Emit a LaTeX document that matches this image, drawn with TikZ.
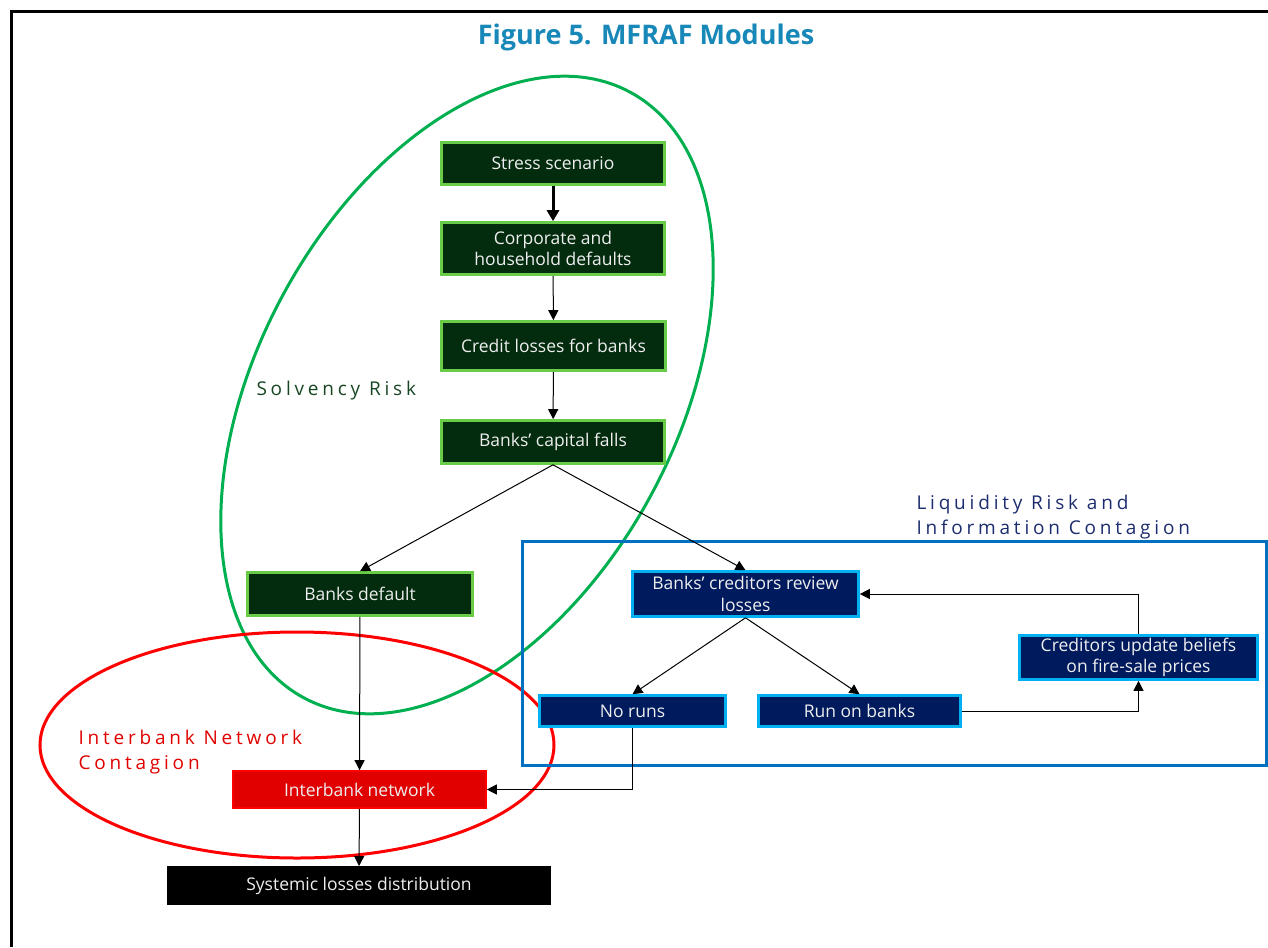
\documentclass[tikz,border=0pt]{standalone}
\usepackage{fontspec}
\setmainfont{Open Sans}
\usetikzlibrary{arrows.meta}
\definecolor{titleblue}{RGB}{24,136,184}
\definecolor{boxgreen}{RGB}{3,43,14}
\definecolor{edgegreen}{RGB}{104,204,72}
\definecolor{boxnavy}{RGB}{0,26,94}
\definecolor{edgeblue}{RGB}{0,176,240}
\definecolor{ovalgreen}{RGB}{0,176,80}
\definecolor{framblue}{RGB}{0,112,192}
\definecolor{solvtext}{RGB}{24,70,36}
\definecolor{liqtext}{RGB}{28,44,110}
\definecolor{ibred}{RGB}{224,0,0}
\definecolor{boxtext}{RGB}{238,238,238}
\tikzset{
  x=1pt, y=-1pt,
  base/.style={rectangle, line width=2.6pt, text=boxtext, font=\fontsize{17.5}{21.5}\selectfont,
    align=center, inner sep=0pt},
  greenbox/.style={base, draw=edgegreen, fill=boxgreen},
  navybox/.style={base, draw=edgeblue, fill=boxnavy},
  redbox/.style={base, draw=red, fill=ibred, line width=1.6pt},
  blackbox/.style={base, draw=black, fill=black, line width=1pt},
  link/.style={line width=1pt, -{Triangle[length=10pt,width=10pt]}},
  biglink/.style={line width=3pt, -{Triangle[length=11pt,width=12pt]}},
  spaced/.style={font=\fontsize{19}{25}\selectfont\addfontfeature{LetterSpace=20}, align=left, anchor=west},
}
\begin{document}
\begin{tikzpicture}
\useasboundingbox (0,0) rectangle (1268,947);
% page frame
\draw[line width=3pt] (11,947) -- (11,12) -- (1268,12);
\node[font=\fontsize{27}{32}\bfseries, text=titleblue] (title) at (646,37) {Figure 5. MFRAF Modules};

% module outlines
\draw[ovalgreen, line width=3pt, rotate around={61.7:(467,395)}] (467,395) ellipse [x radius=344, y radius=209.5];
\draw[red, line width=3pt] (297,745) ellipse [x radius=257, y radius=113];
\draw[framblue, line width=3pt] (522,541) rectangle (1266,765);

% module labels
\node[spaced, text=solvtext] (solv) at (253,391) {Solvency Risk};
\node[spaced, text=liqtext] (liq) at (913,517) {Liquidity Risk and\\Information Contagion};
\node[spaced, text=ibred] (ibl) at (75,752) {Interbank Network\\Contagion};

% boxes
\node[greenbox, minimum width=223pt, minimum height=42pt] (stress) at (553,163.5) {Stress scenario};
\node[greenbox, minimum width=223pt, minimum height=52pt] (corp) at (553,248.5) {Corporate and\\household defaults};
\node[greenbox, minimum width=224pt, minimum height=49pt] (credit) at (553.5,346) {Credit losses for banks};
\node[greenbox, minimum width=223pt, minimum height=43pt] (capital) at (553,442) {Banks’ capital falls};
\node[greenbox, minimum width=225pt, minimum height=43pt] (bdef) at (360,594) {Banks default};
\node[navybox, minimum width=226pt, minimum height=45pt] (review) at (745.5,594) {Banks’ creditors review\\losses};
\node[navybox, minimum width=238pt, minimum height=44pt] (update) at (1138.5,657.5) {Creditors update beliefs\\on fire-sale prices};
\node[navybox, minimum width=186pt, minimum height=31pt] (noruns) at (632.5,711) {No runs};
\node[navybox, minimum width=202pt, minimum height=31pt] (runs) at (859.5,711) {Run on banks};
\node[redbox, minimum width=253pt, minimum height=37pt] (ib) at (359.5,789.5) {Interbank network};
\node[blackbox, minimum width=383pt, minimum height=38pt] (sys) at (359,885.5) {Systemic losses distribution};

% connectors
\draw[biglink] (stress) -- (corp);
\draw[link] (corp) -- (credit);
\draw[link] (credit) -- (capital);
\draw[link] (capital.south) -- (bdef.north);
\draw[link] (capital.south) -- (review.north);
\draw[link] (review.south) -- (noruns.north);
\draw[link] (review.south) -- (runs.north);
\draw[link] (runs.east) -| (update.south);
\draw[link] (update.north) |- (review.east);
\draw[link] (noruns.south) |- (ib.east);
\draw[link] (bdef) -- (ib);
\draw[link] (ib) -- (sys);
\end{tikzpicture}
\end{document}
